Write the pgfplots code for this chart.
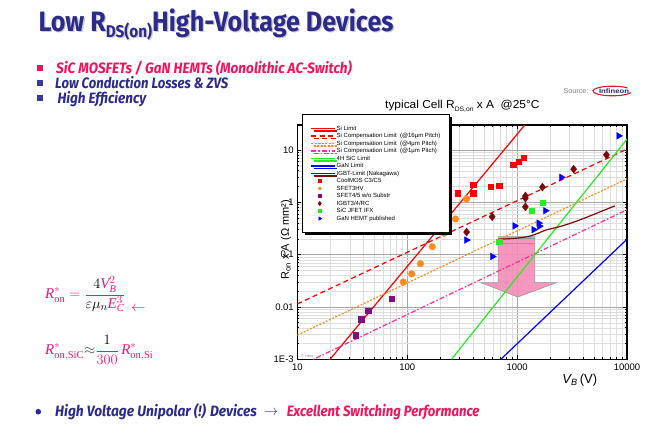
\documentclass[border=0pt]{standalone}
\usepackage{fontspec}
\setmainfont{Liberation Sans}
\setmathrm{Liberation Serif}
\newfontfamily\slidefont{Fira Sans}
\usepackage{graphicx}
\usepackage{xcolor}
\usepackage{pgfplots}
\pgfplotsset{compat=1.18}
\usetikzlibrary{shadows}

\definecolor{navy}{HTML}{2D2A8E}
\definecolor{hotpink}{HTML}{F0145A}
\definecolor{mathpink}{HTML}{E8197D}
\definecolor{bulletblue}{HTML}{3A3A9C}
\definecolor{infred}{HTML}{D0202E}
\definecolor{infblue}{HTML}{1E2D78}
\definecolor{arrowpink}{HTML}{F48CB8}
\definecolor{siOrange}{HTML}{FF8C1A}
\definecolor{siPink}{HTML}{FF2E9A}
\definecolor{sicGreen}{HTML}{22EE22}
\definecolor{igbtBrown}{HTML}{7A0E0E}
\definecolor{sfetPurple}{HTML}{80107E}
\definecolor{diamondRed}{HTML}{7A0A0A}

\newcommand\titletext{\resizebox{355pt}{\height}{\slidefont\bfseries\fontsize{28}{28}\selectfont Low R\raisebox{-6pt}{\fontsize{17}{17}\selectfont DS(on)}High-Voltage Devices}}
\newcommand\slidetext[2]{\resizebox{#1}{\height}{\slidefont\bfseries\itshape\fontsize{15}{15}\selectfont #2}}

\begin{document}
\begin{tikzpicture}[x=1pt,y=1pt]
\path[use as bounding box, fill=white] (0,0) rectangle (667,434);

% slide title
\node[anchor=base west, inner sep=0, text=gray!40] at (39.6,401.0) {\titletext};
\node[anchor=base west, inner sep=0, text=navy] at (38.3,402.3) {\titletext};

% bullets
\fill[hotpink] (36.7,362.7) rectangle (42.7,368.7);
\fill[bulletblue] (36.7,347.7) rectangle (42.7,353.7);
\fill[bulletblue] (36.7,332.7) rectangle (42.7,338.7);
\node[anchor=base west, inner sep=0, text=hotpink] at (56,360.4) {\slidetext{295.7pt}{SiC MOSFETs / GaN HEMTs (Monolithic AC-Switch)}};
\node[anchor=base west, inner sep=0, text=navy] at (55,345.4) {\slidetext{173pt}{Low Conduction Losses \& ZVS}};
\node[anchor=base west, inner sep=0, text=navy] at (57.3,330.4) {\slidetext{88.7pt}{High Efficiency}};

% formulas
\node[anchor=west, inner sep=0, text=mathpink] at (45,139.7) {\fontsize{15}{15}\selectfont $\displaystyle \mathit{R}^{*}_{\mathrm{on}} = \frac{{\color{black}4}\mathit{V}_{\mathit{B}}^{2}}{{\color{black}\varepsilon\mu_n}\mathit{E}_{\mathit{C}}^{3}}$};
\node[text=mathpink, inner sep=0] at (138.3,124.7) {\fontsize{14}{14}\selectfont $\leftarrow$};
\node[anchor=west, inner sep=0, text=mathpink] at (45,84) {\fontsize{15}{15}\selectfont $\displaystyle \mathit{R}^{*}_{\mathrm{on,SiC}} {\color{black!70}\approx} \frac{{\color{black}1}}{300}\, \mathit{R}^{*}_{\mathrm{on,Si}}$};

% bottom line
\fill[navy] (38.3,22.3) circle (2.8);
\node[anchor=base west, inner sep=0, text=navy] at (55,17.3) {\slidetext{201.7pt}{High Voltage Unipolar (!) Devices}};
\node[text=navy, inner sep=0] at (271,21.5) {\fontsize{14}{14}\selectfont $\rightarrow$};
\node[anchor=base west, inner sep=0, text=hotpink] at (286.7,17.3) {\slidetext{192.6pt}{Excellent Switching Performance}};

% source
\node[anchor=base west, inner sep=0, text=gray] at (563.3,340.5) {\resizebox{25pt}{\height}{\fontsize{7}{7}\selectfont Source:}};
\draw[infred, line width=1.1pt] (612.5,343) ++(40:19.5 and 4.8) arc[start angle=40, end angle=340, x radius=19.5, y radius=4.8];
\node[text=infblue, inner sep=0] at (614,343) {\resizebox{30pt}{\height}{\fontsize{6.5}{6.5}\selectfont\bfseries Infineon}};

% chart title
\node[anchor=base west, inner sep=0] at (385,325.7) {\resizebox{154.3pt}{\height}{\fontsize{11.5}{12}\selectfont typical Cell R\raisebox{-3.5pt}{\fontsize{6.5}{6.5}\selectfont DS,on} x A\ \ @25°C}};

\begin{axis}[
    at={(297.3pt,74.7pt)}, anchor=south west,
    scale only axis, width=329.7pt, height=234.3pt,
    xmode=log, ymode=log,
    xmin=10, xmax=10000, ymin=0.001, ymax=30,
    xtick={10,100,1000,10000}, xticklabels={10,100,1000,10000},
    ytick={0.001,0.01,0.1,1,10}, yticklabels={1E-3,0.01,0.1,1,10},
    tick label style={font=\fontsize{9.5}{10}\selectfont},
    xticklabel style={yshift=-1.5pt},
    grid=both,
    major grid style={draw=black!35, line width=0.5pt},
    minor grid style={draw=black!13, line width=0.4pt},
    axis line style={line width=1.1pt},
    major tick length=4pt, minor tick length=2pt,
    tick style={black, line width=0.6pt},
    xlabel={{\itshape V\textsubscript{B}}\,(V)},
    xlabel style={at={(axis description cs:0.857,-0.088)}, anchor=center, font=\fontsize{13}{13}\selectfont},
    ylabel={R\textsubscript{on} x A (Ω mm²)},
    ylabel style={at={(axis description cs:-0.034,0.51)}, anchor=center, font=\fontsize{11}{11}\selectfont},
    legend cell align=left,
    legend image code/.code={\draw[mark repeat=2,mark phase=2,#1] plot coordinates {(0pt,0pt) (8.6pt,0pt) (23.3pt,0pt)};},
    legend style={at={(axis description cs:0.0134,1.0474)}, anchor=north west,
        fill=white, draw=black, line width=0.8pt,
        drop shadow={shadow xshift=2.5pt, shadow yshift=-2.5pt, fill=black, opacity=1},
        font=\fontsize{6}{7}\selectfont, inner xsep=8.5pt, inner ysep=10.5pt,
        nodes={inner sep=0.6pt, text height=4.8pt, text depth=1.5pt},
        /tikz/every odd column/.style={column sep=1pt}},
]
% improvement arrow
\path[fill=arrowpink, fill opacity=0.9, draw=gray!80, line width=0.6pt]
    (axis cs:671,0.221) -- (axis cs:1449,0.221) -- (axis cs:1449,0.0292) -- (axis cs:2281,0.0292)
    -- (axis cs:1014,0.0155) -- (axis cs:468,0.0292) -- (axis cs:671,0.0292) -- cycle;
\draw[gray!80, line width=0.6pt] (axis cs:671,0.206) -- (axis cs:1449,0.206);
\draw[gray!80, line width=0.6pt] (axis cs:671,0.162) -- (axis cs:1449,0.162);

\addplot[red, line width=1.2pt] coordinates {(15.1,0.0005) (1175,30)};
\addlegendentry{Si Limit}
\addplot[red, line width=1.2pt, dash pattern=on 5pt off 3.5pt] coordinates {(10,0.0114) (10000,10.4)};
\addlegendentry{Si Compensation Limit\ \ (@16µm Pitch)}
\addplot[siOrange, line width=1.2pt, dash pattern=on 2pt off 1.5pt] coordinates {(10,0.0029) (10000,2.8)};
\addlegendentry{Si Compensation Limit\ \ (@4µm Pitch)}
\addplot[siPink, line width=1.2pt, dash pattern=on 5pt off 2pt on 1.5pt off 2pt] coordinates {(10,0.000714) (10000,0.72)};
\addlegendentry{Si Compensation Limit\ \ (@1µm Pitch)}
\addplot[sicGreen, line width=1.2pt] coordinates {(253,0.001) (10000,16.1)};
\addlegendentry{4H SiC Limit}
\addplot[blue, line width=1.2pt] coordinates {(711,0.001) (10000,0.197)};
\addlegendentry{GaN Limit}
\addplot[igbtBrown, line width=1.2pt, smooth] coordinates {
    (671,0.197) (988,0.206) (1352,0.231) (1849,0.297) (2443,0.343) (3715,0.46) (7730,0.853)};
\addlegendentry{IGBT-Limit (Nakagawa)}

\addplot[only marks, mark=square*, mark size=2.6pt, red, line width=0.4pt,
    legend image post style={mark size=1.6pt}] coordinates {
    (287,1.49) (398,2.15) (398,1.49) (577,2.0) (686,2.06) (920,5.19) (1035,6.0) (1150,7.16)};
\addlegendentry{CoolMOS C3/C5}
\addplot[only marks, mark=*, mark size=3.3pt, siOrange, line width=0.4pt,
    legend image post style={mark size=1.7pt}] coordinates {
    (92,0.030) (110,0.043) (132,0.067) (169,0.142) (217,0.256) (275,0.48) (347,1.16)};
\addlegendentry{SFET3HV}
\addplot[only marks, mark=square*, mark size=2.7pt, sfetPurple, line width=0.4pt,
    legend image post style={mark size=1.6pt}] coordinates {
    (34,0.0029) (38,0.0058) (44,0.0085) (72,0.0142)};
\addlegendentry{SFET4/5 w/o Substr}
\addplot[only marks, mark=diamond*, mark size=4pt, diamondRed, line width=0.4pt,
    legend image post style={mark size=2.2pt}] coordinates {
    (347,0.27) (593,0.53) (1190,0.82) (1190,1.2) (1190,1.32) (1700,1.95) (3270,4.3) (6500,8.05)};
\addlegendentry{IGBT3/4/RC}
\addplot[only marks, mark=square*, mark size=2.6pt, sicGreen, line width=0.4pt,
    legend image post style={mark size=1.6pt}] coordinates {
    (686,0.177) (1368,0.69) (1722,1.0)};
\addlegendentry{SiC JFET IFX}
\addplot[only marks, mark=triangle*, mark size=3.8pt, blue, line width=0.4pt,
    mark options={rotate=-90}, legend image post style={mark size=2pt}] coordinates {
    (347,0.19) (597,0.092) (953,0.354) (1420,0.30) (1575,0.40) (1600,0.35) (1811,0.69) (2535,3.0) (8410,18.6)};
\addlegendentry{GaN HEMT published}

\node[anchor=south west, inner sep=0.5pt, text=gray, font=\fontsize{3.5}{4}\selectfont] at (axis cs:10.8,0.00105) {F. Hiller};
\end{axis}
\end{tikzpicture}
\end{document}
